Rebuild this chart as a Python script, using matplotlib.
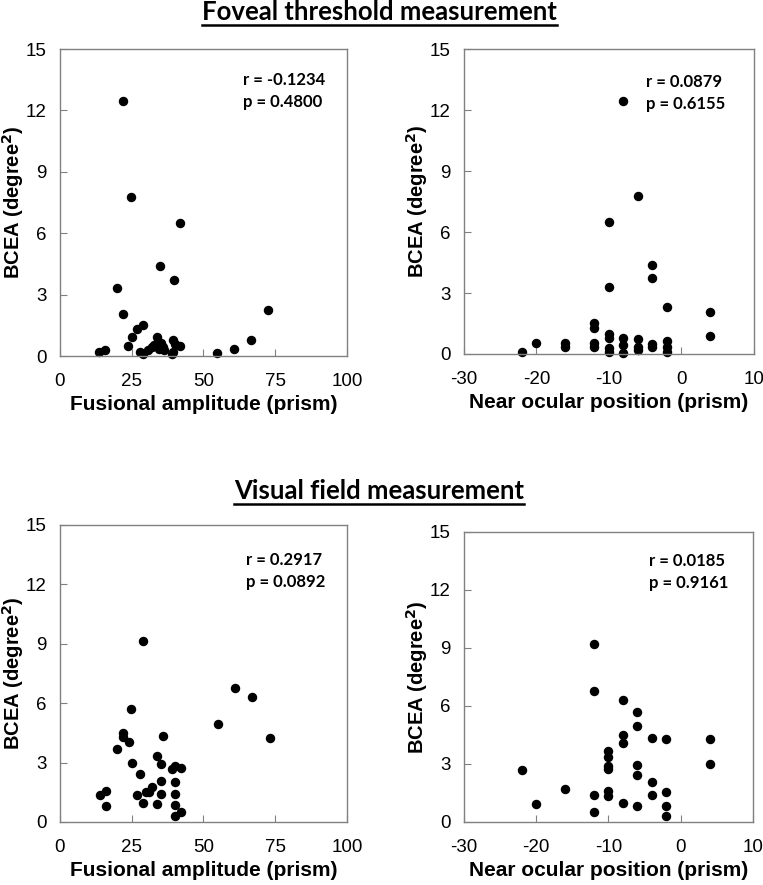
import matplotlib
matplotlib.use("Agg")
import matplotlib.pyplot as plt
from matplotlib.lines import Line2D

# Foveal threshold measurement
fov_fus_x = [21.9, 24.8, 41.9, 34.9, 39.7, 19.8, 21.9, 72.6, 28.8, 26.9, 25.0, 23.8,
             13.7, 15.8, 27.9, 28.8, 30.8, 32.0, 33.7, 35.1, 34.6, 32.8, 39.5, 41.8,
             39.5, 38.9, 36.0, 36.2, 40.2, 54.8, 60.6, 66.4]
fov_fus_y = [12.46, 7.75, 6.5, 4.42, 3.73, 3.31, 2.07, 2.27, 1.51, 1.30, 0.91, 0.49,
             0.18, 0.29, 0.21, 0.10, 0.29, 0.46, 0.94, 0.65, 0.33, 0.54, 0.78, 0.49,
             0.21, 0.08, 0.45, 0.30, 0.60, 0.13, 0.33, 0.78]

fov_pos_x = [-22, -20, -16, -16, -12, -12, -12, -12, -10, -10, -10, -10, -10, -10,
             -8, -8, -8, -8, -6, -6, -6, -6, -4, -4, -4, -4, -2, -2, -2, -2, 4, 4]
fov_pos_y = [0.11, 0.56, 0.53, 0.36, 1.51, 1.27, 0.56, 0.36, 6.5, 3.3, 0.99, 0.77,
             0.28, 0.11, 12.45, 0.77, 0.44, 0.06, 7.75, 0.72, 0.36, 0.20, 4.4, 3.73,
             0.49, 0.36, 2.30, 0.66, 0.36, 0.11, 2.07, 0.90]

# Visual field measurement
vf_fus_x = [28.9, 24.9, 36.0, 21.8, 22.1, 23.9, 19.9, 25.0, 33.9, 35.1, 38.9, 40.1,
            42.1, 27.9, 35.1, 40.1, 16.0, 13.9, 16.0, 26.9, 30.0, 31.1, 31.9, 35.1,
            40.1, 28.9, 33.9, 40.1, 40.1, 42.1, 55.0, 61.0, 67.0, 73.1]
vf_fus_y = [9.14, 5.69, 4.34, 4.48, 4.28, 4.06, 3.67, 2.99, 3.35, 2.91, 2.66, 2.83,
            2.74, 2.41, 2.07, 2.04, 1.57, 1.35, 0.79, 1.36, 1.53, 1.53, 1.75, 1.40,
            1.43, 0.98, 0.89, 0.86, 0.32, 0.49, 4.95, 6.75, 6.33, 4.23]

vf_pos_x = [-22, -20, -16, -12, -12, -12, -12, -10, -10, -10, -10, -10, -10,
            -8, -8, -8, -8, -6, -6, -6, -6, -6, -4, -4, -4, -2, -2, -2, -2, 4, 4]
vf_pos_y = [2.71, 0.93, 1.71, 9.21, 6.78, 1.38, 0.52, 3.69, 3.35, 2.90, 2.76, 1.62,
            1.35, 6.31, 4.48, 4.07, 1.0, 5.71, 4.97, 2.93, 2.43, 0.84, 4.33, 2.07,
            1.40, 4.28, 1.54, 0.81, 0.33, 4.28, 3.02]

stats = [("r = -0.1234", "p = 0.4800"), ("r = 0.0879", "p = 0.6155"),
         ("r = 0.2917", "p = 0.0892"), ("r = 0.0185", "p = 0.9161")]

bold_font = ["Lato", "Open Sans", "DejaVu Sans"]
plt.rcParams["font.family"] = ["Liberation Sans", "DejaVu Sans"]
plt.rcParams["axes.unicode_minus"] = False

fig = plt.figure(figsize=(7.63, 8.85), dpi=100)

# [left, bottom, width, height], stat text position
panels = [
    ([0.0786, 0.5977, 0.3761, 0.3469], fov_fus_x, fov_fus_y, "fus", (0.638, 0.925)),
    ([0.6081, 0.6000, 0.3800, 0.3446], fov_pos_x, fov_pos_y, "pos", (0.628, 0.918)),
    ([0.0786, 0.0712, 0.3761, 0.3356], vf_fus_x, vf_fus_y, "fus", (0.650, 0.909)),
    ([0.6081, 0.0712, 0.3788, 0.3277], vf_pos_x, vf_pos_y, "pos", (0.640, 0.928)),
]

for i, (rect, xs, ys, kind, tpos) in enumerate(panels):
    ax = fig.add_axes(rect)
    ax.plot(xs, ys, "o", color="black", markersize=5.8, clip_on=False)
    if kind == "fus":
        ax.set_xlim(0, 100)
        ax.set_xticks([0, 25, 50, 75, 100])
        ax.set_xlabel("Fusional amplitude (prism)", fontsize=15, fontweight="bold", labelpad=4)
    else:
        ax.set_xlim(-30, 10)
        ax.set_xticks([-30, -20, -10, 0, 10])
        ax.set_xlabel("Near ocular position (prism)", fontsize=15, fontweight="bold", labelpad=4)
    ax.set_ylim(0, 15)
    ax.set_yticks([0, 3, 6, 9, 12, 15])
    ax.set_ylabel("BCEA (degree$^\\mathbf{2}$)", fontsize=14.5, fontweight="bold", labelpad=0)
    ax.tick_params(axis="both", direction="in", length=5, color="#808080", labelsize=13.5)
    ax.tick_params(axis="x", pad=12)
    ax.tick_params(axis="y", pad=9.5)
    for s in ax.spines.values():
        s.set_color("#808080")
        s.set_linewidth(1.0)
    ax.text(tpos[0], tpos[1], stats[i][0] + "\n" + stats[i][1], transform=ax.transAxes,
            ha="left", va="top", fontsize=12, fontweight="bold", family=bold_font,
            linespacing=1.45)

titles = [("Foveal threshold measurement", 0.977), ("Visual field measurement", 0.436)]
fig.canvas.draw()
renderer = fig.canvas.get_renderer()
for label, ypos in titles:
    t = fig.text(0.497, ypos, label, ha="center", va="baseline", fontsize=18.5,
                 fontweight="bold", family=bold_font)
    bb = t.get_window_extent(renderer=renderer).transformed(fig.transFigure.inverted())
    fig.add_artist(Line2D([bb.x0, bb.x1], [ypos - 0.0055, ypos - 0.0055],
                          transform=fig.transFigure, color="black", linewidth=1.8))

fig.savefig("out.png", dpi=100)
